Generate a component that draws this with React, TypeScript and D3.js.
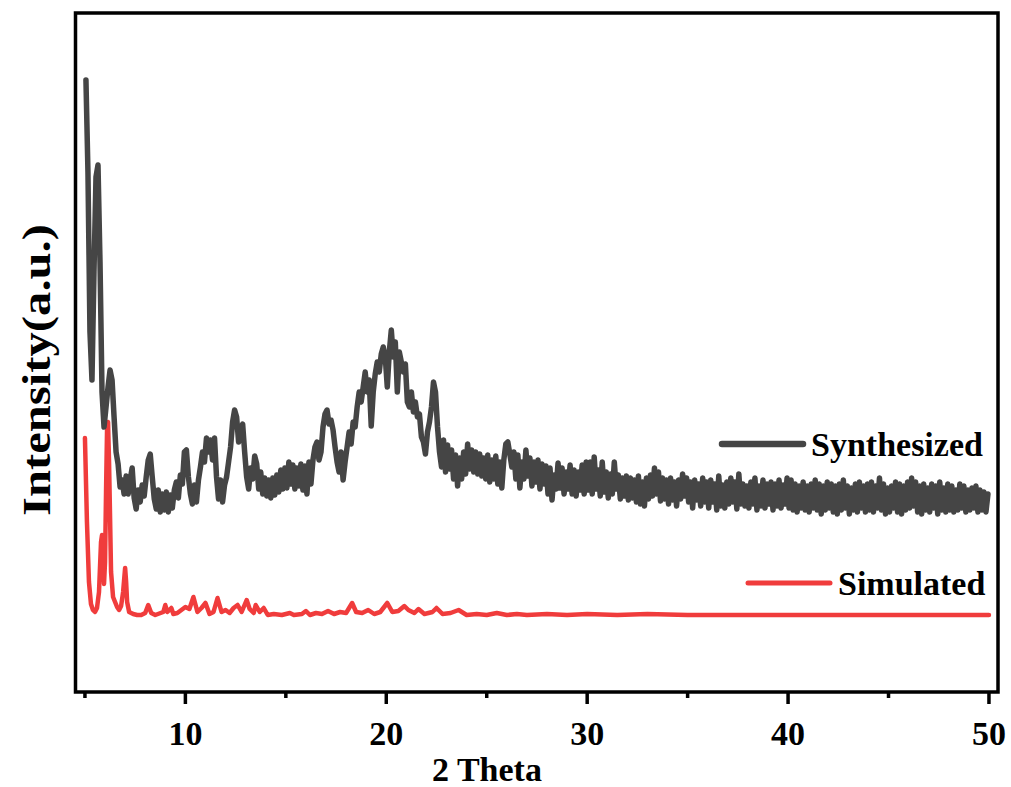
import React from "react";
import * as d3 from "d3";

// XRD patterns, intensity in arbitrary units
const xTicksMajor = [10, 20, 30, 40, 50];
const xTicksMinor = [5, 15, 25, 35, 45];

// synthesized sample: measured on a fixed 0.1 degree grid starting at 5.05
const synthStart = 5.05;
const synthStep = 0.1;
const synthValues = [
  612, 520, 360, 312, 420, 515, 527, 430, 300, 265,
  285, 305, 322, 312, 275, 240, 228, 205, 212, 198,
  216, 198, 212, 224, 194, 183, 202, 190, 207, 196,
  215, 232, 238, 215, 193, 183, 202, 180, 198, 182,
  200, 180, 197, 184, 202, 210, 194, 217, 208, 240,
  242, 215, 198, 188, 207, 190, 212, 225, 240, 230,
  254, 240, 252, 232, 254, 215, 193, 212, 190, 207,
  215, 230, 245, 270, 282, 275, 250, 262, 268, 240,
  215, 203, 224, 213, 236, 228, 203, 220, 198, 214,
  196, 212, 194, 214, 197, 217, 200, 222, 203, 224,
  204, 230, 208, 227, 203, 224, 206, 228, 202, 226,
  198, 230, 208, 232, 245, 250, 232, 240, 265, 278,
  282, 268, 272, 262, 245, 230, 220, 240, 212, 230,
  245, 260, 248, 270, 265, 285, 300, 290, 305, 320,
  300, 312, 266, 300, 318, 330, 320, 338, 345, 335,
  305, 340, 362, 335, 350, 300, 340, 330, 320, 328,
  290, 285, 300, 280, 290, 275, 278, 255, 250, 238,
  260, 270, 285, 310, 300, 265, 240, 225, 252, 220,
  247, 223, 242, 213, 237, 206, 234, 213, 240, 218,
  248, 223, 242, 220, 240, 218, 238, 216, 234, 213,
  237, 210, 232, 213, 236, 208, 230, 204, 232, 248,
  250, 238, 225, 240, 213, 237, 204, 230, 213, 242,
  216, 234, 206, 230, 210, 232, 203, 228, 208, 226,
  198, 224, 192, 217, 203, 229, 204, 224, 198, 220,
  203, 227, 198, 222, 196, 220, 202, 227, 198, 230,
  202, 230, 198, 235, 203, 222, 196, 230, 200, 220,
  194, 218, 198, 230, 203, 217, 193, 214, 196, 216,
  192, 214, 194, 212, 190, 216, 188, 210, 186, 214,
  193, 217, 196, 224, 198, 220, 191, 214, 193, 212,
  188, 214, 192, 210, 186, 212, 193, 218, 196, 214,
  190, 210, 184, 212, 192, 208, 186, 214, 190, 210,
  184, 212, 190, 208, 182, 216, 186, 207, 184, 210,
  188, 214, 190, 210, 183, 218, 188, 208, 186, 206,
  184, 210, 188, 214, 182, 206, 186, 212, 184, 208,
  188, 210, 182, 208, 186, 212, 184, 207, 188, 214,
  184, 212, 182, 208, 180, 206, 184, 210, 182, 206,
  180, 208, 184, 212, 182, 208, 178, 206, 182, 210,
  184, 208, 180, 206, 178, 208, 182, 212, 184, 206,
  178, 204, 182, 208, 180, 210, 184, 206, 180, 208,
  182, 210, 180, 206, 184, 214, 182, 208, 178, 204,
  180, 206, 184, 210, 180, 208, 178, 206, 182, 210,
  184, 214, 186, 210, 180, 206, 178, 208, 182, 204,
  180, 208, 184, 206, 178, 210, 182, 204, 180, 208,
  182, 206, 180, 202, 182, 208, 184, 206, 180, 202,
  182, 204, 184, 206, 180, 202, 182, 200, 180, 198,
];

// simulated pattern
const simTheta = [
  5.0, 5.1, 5.2, 5.3, 5.4, 5.5, 5.6, 5.7, 5.8, 5.85, 5.9, 5.95, 6.0, 6.05, 6.1, 6.15,
  6.2, 6.3, 6.4, 6.5, 6.6, 6.7, 6.8, 6.9, 7.0, 7.05, 7.1, 7.2, 7.4, 7.6, 7.8, 8.0,
  8.15, 8.3, 8.5, 8.9, 9.0, 9.1, 9.3, 9.4, 9.6, 9.8, 10.0, 10.2, 10.4, 10.6, 10.8, 11.0,
  11.2, 11.4, 11.6, 11.8, 12.0, 12.2, 12.4, 12.6, 12.8, 13.05, 13.2, 13.4, 13.5, 13.7, 13.9, 14.1,
  14.4, 14.8, 15.2, 15.4, 15.8, 16.0, 16.2, 16.5, 16.8, 17.1, 17.4, 17.7, 18.0, 18.3, 18.5, 18.8,
  19.1, 19.4, 19.7, 20.05, 20.3, 20.6, 20.9, 21.1, 21.4, 21.6, 21.9, 22.3, 22.5, 22.8, 23.2, 23.6,
  24.0, 24.5, 25.0, 25.5, 26.0, 26.5, 27.0, 28.0, 29.0, 30.0, 31.5, 33.0, 35.0, 37.0, 40.0, 43.0,
  46.0, 48.0, 50.0,
];
const simValues = [
  254, 170, 110, 88, 82, 80, 84, 100, 150, 157, 140, 108, 130, 200, 262, 270,
  230, 120, 95, 90, 85, 82, 86, 100, 124, 110, 90, 80, 78, 77, 77, 79,
  87, 79, 77, 80, 87, 80, 84, 78, 79, 82, 85, 83, 95, 80, 84, 89,
  78, 80, 94, 80, 82, 79, 84, 87, 80, 92, 83, 79, 87, 80, 84, 77,
  78, 77, 79, 77, 78, 81, 77, 79, 78, 81, 78, 80, 79, 89, 80, 79,
  82, 78, 80, 89, 80, 81, 86, 82, 79, 83, 78, 80, 84, 78, 79, 82,
  77, 78, 77, 79, 77, 78, 77, 78, 77, 78, 77, 78, 77, 77, 77, 77,
  77, 77, 77,
];

const width = 1011;
const height = 787;
const margin = { top: 13, right: 13, bottom: 95, left: 75.5 };
const font = "'Liberation Serif', 'Times New Roman', serif";

const x = d3.scaleLinear().domain([4.53, 50.45]).range([margin.left, width - margin.right]);
const y = d3.scaleLinear().domain([0, 679]).range([height - margin.bottom, margin.top]);

const synthData: [number, number][] = synthValues.map((v, i) => [synthStart + i * synthStep, v]);
const simData: [number, number][] = simTheta.map((t, i) => [t, simValues[i]]);

const line = d3.line<[number, number]>().x(d => x(d[0])).y(d => y(d[1]));

export default function App() {
  const x0 = margin.left;
  const x1 = width - margin.right;
  const y0 = margin.top;
  const y1 = height - margin.bottom;
  return (
    <svg width={width} height={height} style={{ position: "absolute", left: 0, top: 0, background: "#fff" }}>
      <path d={line(simData) ?? ""} fill="none" stroke="#f03c3c" strokeWidth={4.5} strokeLinejoin="round" strokeLinecap="round" />
      <path d={line(synthData) ?? ""} fill="none" stroke="#454545" strokeWidth={5.5} strokeLinejoin="round" strokeLinecap="round" />

      {/* frame */}
      <rect x={x0} y={y0} width={x1 - x0} height={y1 - y0} fill="none" stroke="#000" strokeWidth={3.5} />

      {/* bottom ticks */}
      {xTicksMajor.map(t => (
        <g key={t}>
          <line x1={x(t)} x2={x(t)} y1={y1} y2={y1 + 12} stroke="#000" strokeWidth={3.5} />
          <text x={x(t)} y={y1 + 53} textAnchor="middle" fontFamily={font} fontWeight="bold" fontSize={34}>{t}</text>
        </g>
      ))}
      {xTicksMinor.map(t => (
        <line key={t} x1={x(t)} x2={x(t)} y1={y1} y2={y1 + 6} stroke="#000" strokeWidth={3.5} />
      ))}

      <text x={487} y={781} textAnchor="middle" fontFamily={font} fontWeight="bold" fontSize={34}>2 Theta</text>
      <text transform="translate(50,370) rotate(-90)" textAnchor="middle" fontFamily={font} fontWeight="bold" fontSize={40}
        textLength={292} lengthAdjust="spacingAndGlyphs">Intensity(a.u.)</text>

      {/* legend */}
      <line x1={722} x2={803} y1={444} y2={444} stroke="#454545" strokeWidth={6.5} strokeLinecap="round" />
      <text x={811} y={456} fontFamily={font} fontWeight="bold" fontSize={34}>Synthesized</text>
      <line x1={748} x2={830} y1={583} y2={583} stroke="#f03c3c" strokeWidth={5} strokeLinecap="round" />
      <text x={838} y={595} fontFamily={font} fontWeight="bold" fontSize={34}>Simulated</text>
    </svg>
  );
}
